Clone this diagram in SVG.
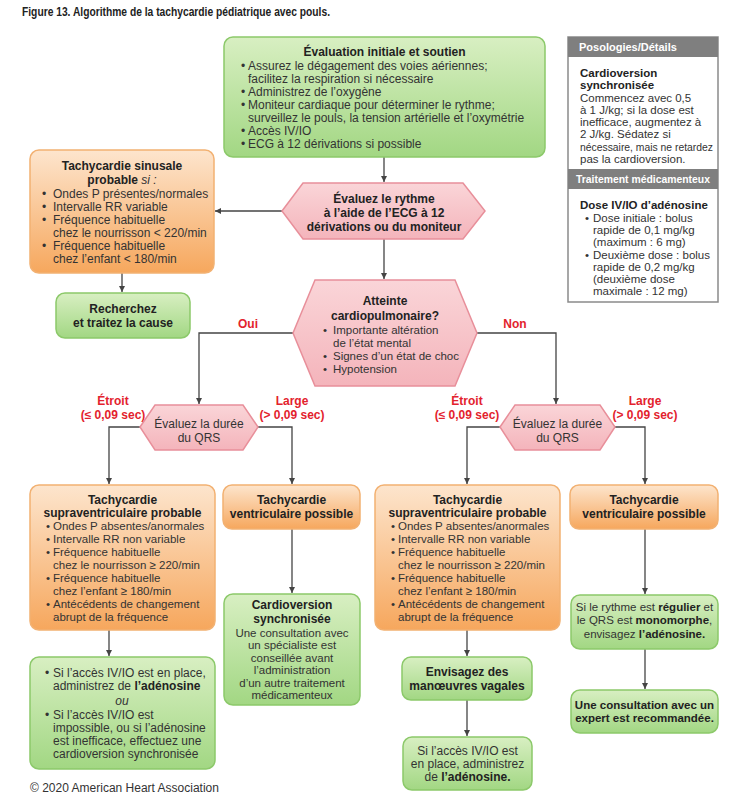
<svg xmlns="http://www.w3.org/2000/svg" width="750" height="794" viewBox="0 0 750 794">
<defs>
<linearGradient id="gg" x1="0" y1="0" x2="0" y2="1"><stop offset="0" stop-color="#d8efc2"/><stop offset="1" stop-color="#a2d783"/></linearGradient>
<linearGradient id="og" x1="0" y1="0" x2="0" y2="1"><stop offset="0" stop-color="#fde5cd"/><stop offset="1" stop-color="#f6a75d"/></linearGradient>
<linearGradient id="pg" x1="0" y1="0" x2="0" y2="1"><stop offset="0" stop-color="#fad5d8"/><stop offset="1" stop-color="#f4b4bb"/></linearGradient>
<marker id="ah" markerUnits="userSpaceOnUse" markerWidth="7" markerHeight="7" refX="6" refY="3" orient="auto"><path d="M0,0 L6,3 L0,6 z" fill="#444"/></marker>
<style>
text{font-family:"Liberation Sans",Arial,sans-serif;font-size:12px;fill:#333}
.b{font-weight:bold;fill:#222}
.c{text-anchor:middle}
.i{font-style:italic}
.red{fill:#e3222d;font-weight:bold}
.g{fill:url(#gg);stroke:#8cc96a;stroke-width:1.5}
.o{fill:url(#og);stroke:#f2b172;stroke-width:1.5}
.p{fill:url(#pg);stroke:#e88f9a;stroke-width:1.5}
.ln{fill:none;stroke:#444;stroke-width:1.3}
.hd{fill:#fff;font-weight:bold;font-size:11px}
.s{font-size:11.5px}
</style>
</defs>
<rect width="750" height="794" fill="#fff"/>
<text x="22" y="16" class="b" font-size="11" textLength="308" lengthAdjust="spacingAndGlyphs">Figure 13.  Algorithme de la tachycardie pédiatrique avec pouls.</text>

<g id="connectors">
<line class="ln" x1="384" y1="157" x2="384" y2="182" marker-end="url(#ah)"/>
<line class="ln" x1="282" y1="211" x2="215" y2="211" marker-end="url(#ah)"/>
<line class="ln" x1="122" y1="273" x2="122" y2="292" marker-end="url(#ah)"/>
<line class="ln" x1="384" y1="239" x2="384" y2="279" marker-end="url(#ah)"/>
<polyline class="ln" points="293,333 199,333 199,404" marker-end="url(#ah)"/>
<polyline class="ln" points="477,333 556,333 556,404" marker-end="url(#ah)"/>
<polyline class="ln" points="140,427 109,427 109,484" marker-end="url(#ah)"/>
<polyline class="ln" points="258,427 292,427 292,484" marker-end="url(#ah)"/>
<polyline class="ln" points="500,427 467,427 467,484" marker-end="url(#ah)"/>
<polyline class="ln" points="615,427 645,427 645,484" marker-end="url(#ah)"/>
<line class="ln" x1="292" y1="529" x2="292" y2="593" marker-end="url(#ah)"/>
<line class="ln" x1="109" y1="630" x2="109" y2="656" marker-end="url(#ah)"/>
<line class="ln" x1="645" y1="529" x2="645" y2="594" marker-end="url(#ah)"/>
<line class="ln" x1="645" y1="649" x2="645" y2="689" marker-end="url(#ah)"/>
<line class="ln" x1="467" y1="630" x2="467" y2="656" marker-end="url(#ah)"/>
<line class="ln" x1="467" y1="700" x2="467" y2="736" marker-end="url(#ah)"/>
<text class="red c" x="248" y="328">Oui</text>
<text class="red c" x="515" y="328">Non</text>
<text class="red c" x="113" y="405">Étroit</text>
<text class="red c" x="113" y="419">(≤ 0,09 sec)</text>
<text class="red c" x="292" y="405">Large</text>
<text class="red c" x="292" y="419">(&gt; 0,09 sec)</text>
<text class="red c" x="467" y="405">Étroit</text>
<text class="red c" x="467" y="419">(≤ 0,09 sec)</text>
<text class="red c" x="645" y="405">Large</text>
<text class="red c" x="645" y="419">(&gt; 0,09 sec)</text>
</g>

<g id="initial">
<rect class="g" x="224" y="37" width="321" height="120" rx="9"/>
<text class="b c" x="384.5" y="56">Évaluation initiale et soutien</text>
<text x="241" y="70">•</text><text x="248" y="70">Assurez le dégagement des voies aériennes;</text>
<text x="248" y="83">facilitez la respiration si nécessaire</text>
<text x="241" y="96">•</text><text x="248" y="96">Administrez de l’oxygène</text>
<text x="241" y="109">•</text><text x="248" y="109">Moniteur cardiaque pour déterminer le rythme;</text>
<text x="248" y="122">surveillez le pouls, la tension artérielle et l’oxymétrie</text>
<text x="241" y="135">•</text><text x="248" y="135">Accès IV/IO</text>
<text x="241" y="148">•</text><text x="248" y="148">ECG à 12 dérivations si possible</text>
</g>

<g id="panel">
<rect x="568" y="37" width="150" height="265" fill="#fff" stroke="#8a8a8a" stroke-width="1.5"/>
<rect x="568" y="37" width="150" height="20" fill="#7f7f7f"/>
<text class="hd" x="579" y="51">Posologies/Détails</text>
<text class="b s" x="580" y="77">Cardioversion</text>
<text class="b s" x="580" y="89">synchronisée</text>
<text class="s" x="580" y="102">Commencez avec 0,5</text>
<text class="s" x="580" y="114">à 1 J/kg; si la dose est</text>
<text class="s" x="580" y="126">inefficace, augmentez à</text>
<text class="s" x="580" y="138">2 J/kg. Sédatez si</text>
<text class="s" x="580" y="151" textLength="133" lengthAdjust="spacingAndGlyphs">nécessaire, mais ne retardez</text>
<text class="s" x="580" y="163">pas la cardioversion.</text>
<rect x="568" y="169" width="150" height="20" fill="#7f7f7f"/>
<text class="hd" x="576" y="183" textLength="134" lengthAdjust="spacingAndGlyphs">Traitement médicamenteux</text>
<text class="b s" x="580" y="209">Dose IV/IO d’adénosine</text>
<text class="s" x="585" y="222">•</text><text class="s" x="593" y="222">Dose initiale : bolus</text>
<text class="s" x="593" y="234">rapide de 0,1 mg/kg</text>
<text class="s" x="593" y="246">(maximum : 6 mg)</text>
<text class="s" x="585" y="259">•</text><text class="s" x="593" y="259">Deuxième dose : bolus</text>
<text class="s" x="593" y="271">rapide de 0,2 mg/kg</text>
<text class="s" x="593" y="283">(deuxième dose</text>
<text class="s" x="593" y="295">maximale : 12 mg)</text>
</g>

<g id="sinus">
<rect class="o" x="30" y="150" width="184" height="123" rx="9"/>
<text class="b c" x="122" y="170">Tachycardie sinusale</text>
<text class="c" x="122" y="184"><tspan class="b">probable </tspan><tspan class="i">si :</tspan></text>
<text x="42" y="198">•</text><text x="53" y="198">Ondes P présentes/normales</text>
<text x="42" y="211">•</text><text x="53" y="211">Intervalle RR variable</text>
<text x="42" y="224">•</text><text x="53" y="224">Fréquence habituelle</text>
<text x="53" y="237">chez le nourrisson &lt; 220/min</text>
<text x="42" y="250">•</text><text x="53" y="250">Fréquence habituelle</text>
<text x="53" y="263">chez l’enfant &lt; 180/min</text>
</g>

<g id="cause">
<rect class="g" x="56" y="293" width="134" height="45" rx="9"/>
<text class="b c" x="123" y="313">Recherchez</text>
<text class="b c" x="123" y="327">et traitez la cause</text>
</g>

<g id="rythme">
<polygon class="p" points="282,211 303,183 463,183 485,211 463,239 303,239"/>
<text class="b c" x="384" y="203">Évaluez le rythme</text>
<text class="b c" x="384" y="217">à l’aide de l’ECG à 12</text>
<text class="b c" x="384" y="231">dérivations ou du moniteur</text>
</g>

<g id="atteinte">
<polygon class="p" points="293,333 315,280 455,280 477,333 455,386 315,386"/>
<text class="b c" x="385" y="305">Atteinte</text>
<text class="b c" x="385" y="320">cardiopulmonaire?</text>
<text class="s" x="323" y="334">•</text><text class="s" x="333" y="334">Importante altération</text>
<text class="s" x="333" y="347">de l’état mental</text>
<text class="s" x="323" y="360">•</text><text class="s" x="333" y="360">Signes d’un état de choc</text>
<text class="s" x="323" y="373">•</text><text class="s" x="333" y="373">Hypotension</text>
</g>

<g id="qrs-left">
<polygon class="p" points="140,427 155,405 243,405 258,427 243,450 155,450"/>
<text class="c" x="199" y="428" fill="#111">Évaluez la durée</text>
<text class="c" x="199" y="442" fill="#111">du QRS</text>
</g>

<g id="qrs-right">
<polygon class="p" points="500,427 515,405 600,405 615,427 600,450 515,450"/>
<text class="c" x="557.5" y="428" fill="#111">Évaluez la durée</text>
<text class="c" x="557.5" y="442" fill="#111">du QRS</text>
</g>

<g id="tsv-left">
<rect class="o" x="30" y="485" width="185" height="145" rx="9"/>
<text class="b c" x="122.5" y="504">Tachycardie</text>
<text class="b c" x="122.5" y="517">supraventriculaire probable</text>
<text class="s" x="46" y="530">•</text><text class="s" x="53" y="530">Ondes P absentes/anormales</text>
<text class="s" x="46" y="543">•</text><text class="s" x="53" y="543">Intervalle RR non variable</text>
<text class="s" x="46" y="556">•</text><text class="s" x="53" y="556">Fréquence habituelle</text>
<text class="s" x="53" y="569">chez le nourrisson ≥ 220/min</text>
<text class="s" x="46" y="582">•</text><text class="s" x="53" y="582">Fréquence habituelle</text>
<text class="s" x="53" y="595">chez l’enfant ≥ 180/min</text>
<text class="s" x="46" y="608">•</text><text class="s" x="53" y="608">Antécédents de changement</text>
<text class="s" x="53" y="621">abrupt de la fréquence</text>
</g>

<g id="tv-left">
<rect class="o" x="223" y="485" width="137" height="44" rx="9"/>
<text class="b c" x="291.5" y="504">Tachycardie</text>
<text class="b c" x="291.5" y="518">ventriculaire possible</text>
</g>

<g id="cardioversion">
<rect class="g" x="224" y="594" width="136" height="111" rx="9"/>
<text class="b c" x="292" y="609">Cardioversion</text>
<text class="b c" x="292" y="623">synchronisée</text>
<text class="c s" x="292" y="636.5">Une consultation avec</text>
<text class="c s" x="292" y="649">un spécialiste est</text>
<text class="c s" x="292" y="661.5">conseillée avant</text>
<text class="c s" x="292" y="674">l’administration</text>
<text class="c s" x="292" y="686.5">d’un autre traitement</text>
<text class="c s" x="292" y="699">médicamenteux</text>
</g>

<g id="adenosine-left">
<rect class="g" x="30" y="657" width="185" height="112" rx="9"/>
<text x="45" y="677">•</text><text x="53" y="677">Si l’accès IV/IO est en place,</text>
<text x="53" y="690">administrez de <tspan class="b">l’adénosine</tspan></text>
<text class="c i" x="122" y="705">ou</text>
<text x="45" y="719">•</text><text x="53" y="719">Si l’accès IV/IO est</text>
<text x="53" y="732">impossible, ou si l’adénosine</text>
<text x="53" y="745">est inefficace, effectuez une</text>
<text x="53" y="758">cardioversion synchronisée</text>
</g>

<g id="tsv-right">
<rect class="o" x="375" y="485" width="185" height="145" rx="9"/>
<text class="b c" x="467.5" y="504">Tachycardie</text>
<text class="b c" x="467.5" y="517">supraventriculaire probable</text>
<text class="s" x="391" y="530">•</text><text class="s" x="398" y="530">Ondes P absentes/anormales</text>
<text class="s" x="391" y="543">•</text><text class="s" x="398" y="543">Intervalle RR non variable</text>
<text class="s" x="391" y="556">•</text><text class="s" x="398" y="556">Fréquence habituelle</text>
<text class="s" x="398" y="569">chez le nourrisson ≥ 220/min</text>
<text class="s" x="391" y="582">•</text><text class="s" x="398" y="582">Fréquence habituelle</text>
<text class="s" x="398" y="595">chez l’enfant ≥ 180/min</text>
<text class="s" x="391" y="608">•</text><text class="s" x="398" y="608">Antécédents de changement</text>
<text class="s" x="398" y="621">abrupt de la fréquence</text>
</g>

<g id="tv-right">
<rect class="o" x="570" y="485" width="148" height="44" rx="9"/>
<text class="b c" x="644" y="504">Tachycardie</text>
<text class="b c" x="644" y="518">ventriculaire possible</text>
</g>

<g id="regulier">
<rect class="g" x="571" y="595" width="147" height="54" rx="9"/>
<text class="c s" x="644.5" y="611">Si le rythme est <tspan class="b">régulier</tspan> et</text>
<text class="c s" x="644.5" y="624">le QRS est <tspan class="b">monomorphe</tspan>,</text>
<text class="c s" x="644.5" y="638">envisagez <tspan class="b">l’adénosine.</tspan></text>
</g>

<g id="expert">
<rect class="g" x="571" y="690" width="147" height="43" rx="9"/>
<text class="b c s" x="644.5" y="709">Une consultation avec un</text>
<text class="b c s" x="644.5" y="722">expert est recommandée.</text>
</g>

<g id="vagales">
<rect class="g" x="402" y="657" width="130" height="43" rx="9"/>
<text class="b c" x="467" y="676">Envisagez des</text>
<text class="b c" x="467" y="690">manœuvres vagales</text>
</g>

<g id="adenosine-right">
<rect class="g" x="403" y="737" width="129" height="53" rx="9"/>
<text class="c" x="467.5" y="755">Si l’accès IV/IO est</text>
<text class="c" x="467.5" y="768">en place, administrez</text>
<text class="c" x="467.5" y="781">de <tspan class="b">l’adénosine.</tspan></text>
</g>

<text x="30" y="792" font-size="9.5">© 2020 American Heart Association</text>
</svg>
